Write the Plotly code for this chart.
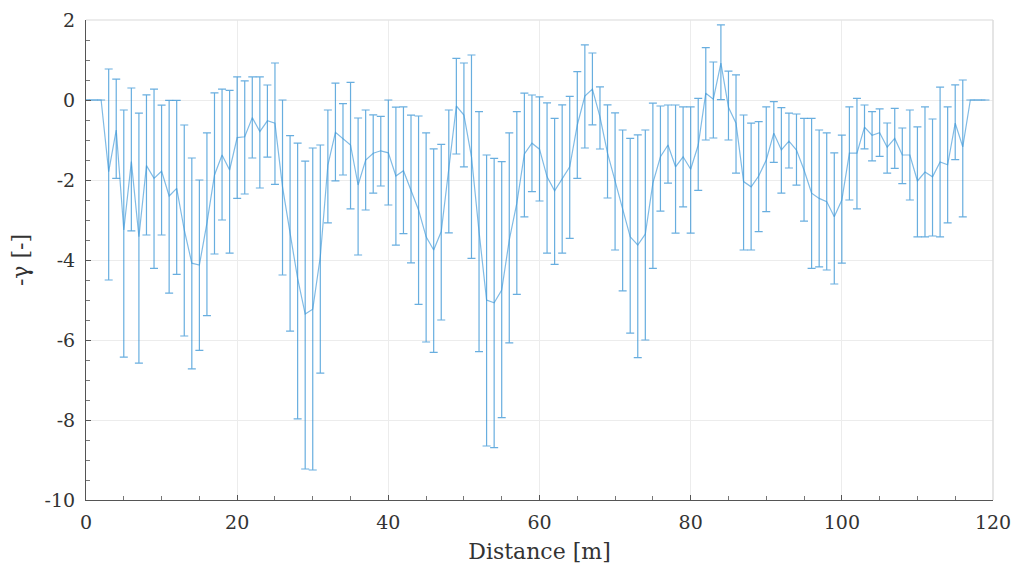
import plotly.graph_objects as go

distance = list(range(0, 120))

gamma = [0, 0, 0, -1.79, -0.75, -3.25, -1.54, -3.42, -1.64, -1.96,
         -1.78, -2.4, -2.21, -3.25, -4.08, -4.125, -3.08, -1.875, -1.375, -1.75,
         -0.94, -0.92, -0.44, -0.79, -0.52, -0.58, -2.17, -3.33, -4.46, -5.35,
         -5.23, -3.92, -1.625, -0.81, -0.98, -1.125, -2.125, -1.5, -1.33, -1.27,
         -1.32, -1.9, -1.77, -2.25, -2.75, -3.42, -3.75, -3.29, -1.75, -0.15,
         -0.375, -1.42, -3.29, -5.0, -5.07, -4.75, -3.5, -2.58, -1.35, -1.08,
         -1.23, -1.92, -2.27, -1.96, -1.67, -0.625, 0.1, 0.275, -0.42, -1.33,
         -2.04, -2.75, -3.42, -3.625, -3.35, -2.08, -1.42, -1.125, -1.67, -1.42,
         -1.73, -1.125, 0.17, 0.02, 0.92, -0.18, -0.58, -2.04, -2.17, -1.9,
         -1.5, -0.83, -1.25, -1.03, -1.25, -1.75, -2.33, -2.46, -2.54, -2.92,
         -2.5, -1.33, -1.33, -0.68, -0.88, -0.82, -1.18, -0.96, -1.375, -1.375,
         -2.025, -1.8, -1.92, -1.55, -1.62, -0.58, -1.17, 0, 0, 0]

upper = [None, None, None, 0.775, 0.52, -0.25, 0.3, -0.33, 0.13, 0.27,
         -0.13, -0.01, -0.01, -0.625, -1.45, -2.0, -0.82, 0.18, 0.27, 0.24,
         0.58, 0.48, 0.58, 0.58, 0.375, 0.925, 0.0, -0.89, -1.08, -1.53,
         -1.2, -1.125, -0.25, 0.42, -0.09, 0.44, -0.45, -0.25, -0.37, -0.41,
         0.0, -0.18, -0.17, -0.38, -0.4, -0.82, -1.22, -1.11, -0.25, 1.04,
         0.925, 1.125, -0.29, -1.375, -1.46, -1.54, -0.82, -0.29, 0.17, 0.125,
         0.08, -0.07, -0.46, -0.12, 0.09, 0.71, 1.38, 1.175, 0.33, -0.12,
         -0.32, -0.75, -0.96, -0.87, -0.75, -0.08, -0.15, -0.125, -0.125, -0.17,
         -0.17, 0.04, 1.31, 0.95, 1.88, 0.72, 0.63, -0.375, -0.58, -0.54,
         -0.17, -0.04, -0.19, -0.33, -0.35, -0.46, -0.46, -0.75, -0.82, -1.32,
         -0.88, -0.17, 0.04, -0.125, -0.29, -0.22, -0.575, -0.21, -0.7, -0.25,
         -0.67, -0.17, -0.475, 0.32, -0.17, 0.38, 0.5, None, None, None]

lower = [None, None, None, -4.5, -1.96, -6.43, -3.27, -6.58, -3.375, -4.21,
         -3.375, -4.83, -4.36, -5.9, -6.72, -6.26, -5.39, -3.85, -3.0, -3.83,
         -2.46, -2.35, -1.45, -2.2, -1.43, -2.11, -4.375, -5.78, -7.97, -9.225,
         -9.25, -6.83, -3.07, -2.02, -1.875, -2.72, -3.875, -2.75, -2.33, -2.15,
         -2.625, -3.63, -3.34, -4.07, -5.11, -6.05, -6.31, -5.5, -3.32, -1.35,
         -1.67, -3.96, -6.29, -8.65, -8.69, -7.94, -6.07, -4.86, -2.92, -2.29,
         -2.525, -3.83, -4.11, -3.83, -3.46, -1.96, -1.2, -0.62, -1.225, -2.45,
         -3.75, -4.77, -5.83, -6.44, -6.0, -4.21, -2.78, -2.08, -3.33, -2.67,
         -3.33, -2.26, -1.0, -0.95, 0.01, -1.0, -1.83, -3.75, -3.75, -3.29,
         -2.79, -1.56, -2.33, -1.7, -2.13, -3.03, -4.21, -4.17, -4.25, -4.6,
         -4.08, -2.5, -2.72, -1.22, -1.52, -1.41, -1.83, -1.71, -2.09, -2.5,
         -3.42, -3.42, -3.4, -3.42, -3.07, -1.49, -2.92, None, None, None]

y_ticks = [2, 0, -2, -4, -6, -8, -10]
y_tick_labels = ["2", "0", "-2", "-4", "-6", "-8", "-10"]
x_ticks = [0, 20, 40, 60, 80, 100, 120]
x_tick_labels = ["0", "20", "40", "60", "80", "100", "120"]

err_plus = [(u - g) if u is not None else None for u, g in zip(upper, gamma)]
err_minus = [(g - l) if l is not None else None for l, g in zip(lower, gamma)]

blue = "rgba(40,140,210,0.7)"
font_family = "DejaVu Serif, Liberation Serif, serif"

fig = go.Figure()
fig.add_trace(go.Scatter(
    x=distance, y=gamma, mode="lines",
    line=dict(color="rgba(60,150,215,0.65)", width=1.2),
    error_y=dict(type="data", symmetric=False, array=err_plus, arrayminus=err_minus,
                 color=blue, thickness=1.2, width=4),
    showlegend=False,
))

fig.update_layout(
    width=1016, height=568,
    margin=dict(l=86, r=23, t=20, b=68),
    paper_bgcolor="white", plot_bgcolor="white",
    font=dict(family=font_family, size=19, color="#333333"),
    xaxis=dict(
        range=[0, 120], tickvals=x_ticks, ticktext=x_tick_labels,
        automargin=False,
        showgrid=True, gridcolor="#ececec", gridwidth=1,
        showline=True, linecolor="#555555", linewidth=1, mirror=False,
        ticks="inside", ticklen=5, tickcolor="#555555",
        minor=dict(dtick=5, ticks="inside", ticklen=4, tickcolor="#777777", showgrid=False),
        zeroline=False, ticklabelstandoff=5,
        title=dict(text="Distance [m]", font=dict(size=22, family=font_family, color="#333333"), standoff=11),
        tickfont=dict(size=19),
    ),
    yaxis=dict(
        range=[-10, 2], tickvals=y_ticks, ticktext=y_tick_labels,
        automargin=False,
        showgrid=True, gridcolor="#ececec", gridwidth=1,
        showline=True, linecolor="#555555", linewidth=1, mirror=False,
        ticks="inside", ticklen=5, tickcolor="#555555",
        minor=dict(dtick=0.5, ticks="inside", ticklen=4, tickcolor="#777777", showgrid=False),
        zeroline=False, ticklabelstandoff=6,
        title=dict(text="-γ [-]", font=dict(size=22, family=font_family, color="#333333"), standoff=9),
        tickfont=dict(size=19),
    ),
    shapes=[
        dict(type="line", xref="paper", yref="paper", x0=0, x1=1, y0=1, y1=1,
             line=dict(color="#e6e6e6", width=1.5)),
        dict(type="line", xref="paper", yref="paper", x0=1, x1=1, y0=0, y1=1,
             line=dict(color="#dddddd", width=1.5)),
    ],
)

fig.write_html("out.html", config={"displayModeBar": False},
               post_script="document.body.style.margin='0';")
